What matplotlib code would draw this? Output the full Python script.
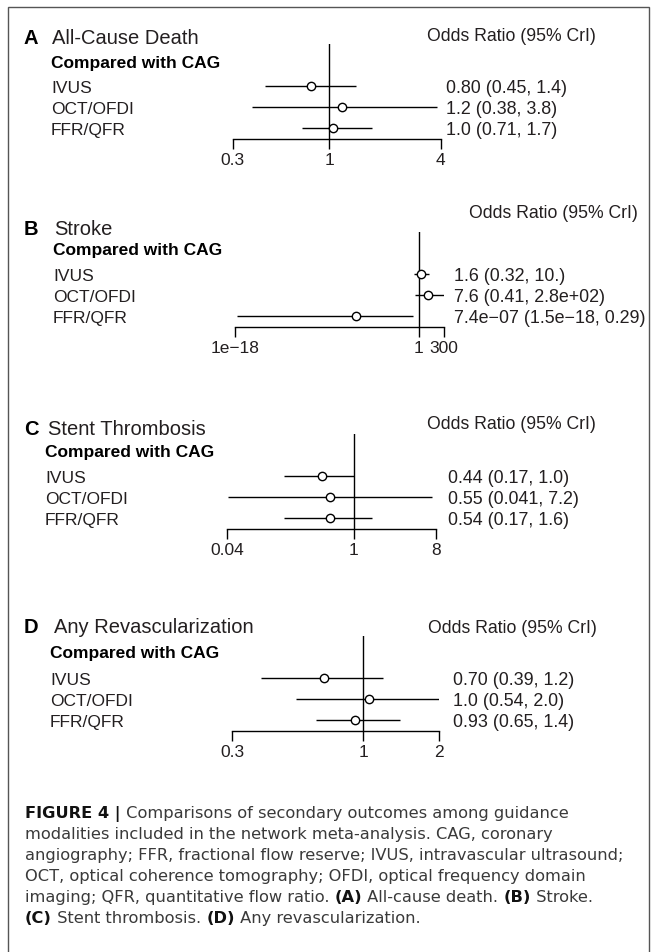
import numpy as np
import matplotlib
matplotlib.use('Agg')
import matplotlib.pyplot as plt
from matplotlib.patches import Rectangle
from matplotlib.ticker import NullLocator

plt.rcParams['font.family'] = ['Liberation Sans', 'DejaVu Sans']

W, H = 657, 953

metody = ['IVUS', 'OCT/OFDI', 'FFR/QFR']

# A - All-Cause Death
a_est = [0.80, 1.17, 1.04]
a_lo = [0.45, 0.38, 0.71]
a_hi = [1.4, 3.8, 1.7]
a_txt = ['0.80 (0.45, 1.4)', '1.2 (0.38, 3.8)', '1.0 (0.71, 1.7)']
a_ticks = [0.3, 1, 4]
a_ticklab = ['0.3', '1', '4']

# B - Stroke
b_est = [1.6, 7.6, 7.4e-07]
b_lo = [0.32, 0.41, 1.5e-18]
b_hi = [10.0, 280.0, 0.29]
b_txt = ['1.6 (0.32, 10.)', '7.6 (0.41, 2.8e+02)', '7.4e\u221207 (1.5e\u221218, 0.29)']
b_ticks = [1e-18, 1, 300]
b_ticklab = ['1e\u221218', '1', '300']

# C - Stent Thrombosis
c_est = [0.44, 0.55, 0.54]
c_lo = [0.17, 0.041, 0.17]
c_hi = [1.0, 7.2, 1.6]
c_txt = ['0.44 (0.17, 1.0)', '0.55 (0.041, 7.2)', '0.54 (0.17, 1.6)']
c_ticks = [0.04, 1, 8]
c_ticklab = ['0.04', '1', '8']

# D - Any Revascularization
d_est = [0.70, 1.05, 0.93]
d_lo = [0.39, 0.54, 0.65]
d_hi = [1.2, 2.0, 1.4]
d_txt = ['0.70 (0.39, 1.2)', '1.0 (0.54, 2.0)', '0.93 (0.65, 1.4)']
d_ticks = [0.3, 1, 2]
d_ticklab = ['0.3', '1', '2']

# uklad paneli (piksele od gory)
panele = [
    dict(lit='A', tyt='All-Cause Death', est=a_est, lo=a_lo, hi=a_hi, txt=a_txt, ticks=a_ticks, tl=a_ticklab,
         ay=140, x0=232.7, x1=440.7, ty=37, tx=52, oy=35, ox=511.5, cy=62, lx=51, vx=446),
    dict(lit='B', tyt='Stroke', est=b_est, lo=b_lo, hi=b_hi, txt=b_txt, ticks=b_ticks, tl=b_ticklab,
         ay=327.7, x0=235, x1=444, ty=228, tx=54, oy=212, ox=553, cy=249, lx=53, vx=454),
    dict(lit='C', tyt='Stent Thrombosis', est=c_est, lo=c_lo, hi=c_hi, txt=c_txt, ticks=c_ticks, tl=c_ticklab,
         ay=530, x0=227.3, x1=435.7, ty=428, tx=48, oy=423, ox=511, cy=451, lx=45, vx=447.7),
    dict(lit='D', tyt='Any Revascularization', est=d_est, lo=d_lo, hi=d_hi, txt=d_txt, ticks=d_ticks, tl=d_ticklab,
         ay=731.7, x0=232, x1=439, ty=626, tx=54, oy=627, ox=512, cy=652, lx=50, vx=453),
]

KOL = '#231f20'
ROW = 21.0
YB, YT = 2.52, -2.0

fig = plt.figure(figsize=(W / 100, H / 100), dpi=100)


def tekst(x, yc, s, size, bold=False, ha='left', color=KOL, family=None):
    # yc = srodek wielkich liter, przeliczone na linie bazowa
    base = yc + 0.716 * size * 100 / 72 / 2
    kw = {}
    if family:
        kw['family'] = family
    return fig.text(x / W, 1 - base / H, s, fontsize=size, ha=ha, va='baseline',
                    fontweight='bold' if bold else 'normal', color=color, **kw)


for p in panele:
    hgt = (YB - YT) * ROW
    ax = fig.add_axes([p['x0'] / W, 1 - p['ay'] / H, (p['x1'] - p['x0']) / W, hgt / H])
    ax.set_xscale('log')
    ax.set_xlim(p['ticks'][0], p['ticks'][-1])
    ax.set_ylim(YB, YT)
    ax.patch.set_visible(False)
    for s in ['top', 'right', 'left']:
        ax.spines[s].set_visible(False)
    ax.spines['bottom'].set_linewidth(1.0)
    ax.set_yticks([])
    ax.set_xticks(p['ticks'])
    ax.set_xticklabels(p['tl'])
    ax.xaxis.set_minor_locator(NullLocator())
    ax.tick_params(axis='x', direction='out', length=7, width=1.0, pad=2.5, labelsize=12.5, colors='black')
    for t in ax.get_xticklabels():
        t.set_color(KOL)
    ax.axvline(1, color='black', lw=1.0)
    yy = np.arange(len(metody))
    ax.hlines(yy, p['lo'], p['hi'], color='black', lw=1.0)
    ax.plot(p['est'], yy, 'o', ms=6, mfc='white', mec='black', mew=1.0, zorder=3, clip_on=False)

    tekst(24, p['ty'], p['lit'], 14.5, bold=True, color='black')
    tekst(p['tx'], p['ty'], p['tyt'], 14.5)
    tekst(p['ox'], p['oy'], 'Odds Ratio (95% CrI)', 12.7, ha='center')
    tekst(p['lx'], p['cy'], 'Compared with CAG', 12.5, bold=True, color='black')
    for i in range(len(metody)):
        ry = p['ay'] - (YB - i) * ROW
        tekst(p['lx'], ry, metody[i], 12.5)
        tekst(p['vx'], ry, p['txt'][i], 12.9)

# ramka
fig.add_artist(Rectangle((8 / W, -0.01), (649 - 8) / W, 1.01 - 8 / H, transform=fig.transFigure,
                         fill=False, edgecolor='#555555', lw=1.0))

# podpis
podpis = [
    [('FIGURE 4 |', True), (' Comparisons of secondary outcomes among guidance', False)],
    [('modalities included in the network meta-analysis. CAG, coronary', False)],
    [('angiography; FFR, fractional flow reserve; IVUS, intravascular ultrasound;', False)],
    [('OCT, optical coherence tomography; OFDI, optical frequency domain', False)],
    [('imaging; QFR, quantitative flow ratio. ', False), ('(A)', True), (' All-cause death. ', False),
     ('(B)', True), (' Stroke.', False)],
    [('(C)', True), (' Stent thrombosis. ', False), ('(D)', True), (' Any revascularization.', False)],
]
linie_y = [812, 833, 854, 875, 896, 917]
r = fig.canvas.get_renderer()
for linia, yc in zip(podpis, linie_y):
    x = 25
    for s, b in linia:
        t = tekst(x, yc, s, 11.7, bold=b, color='#111111' if b else '#3a3a3a', family='DejaVu Sans')
        x += t.get_window_extent(r).width

fig.savefig('out.png', dpi=100)
